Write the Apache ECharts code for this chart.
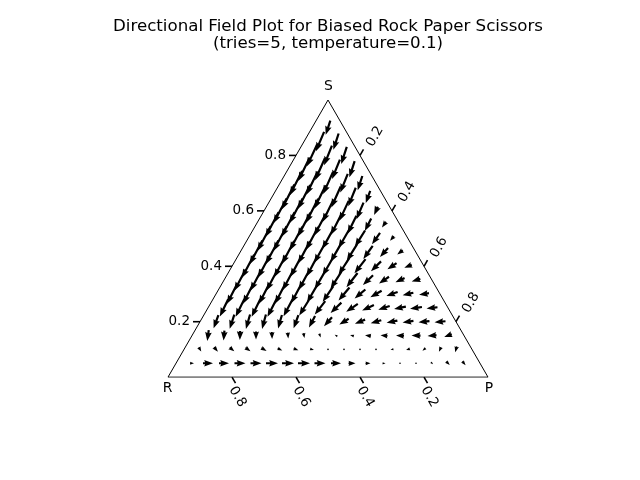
<!DOCTYPE html>
<html><head><meta charset="utf-8">
<script src="https://cdn.jsdelivr.net/npm/echarts@6/dist/echarts.min.js"></script>
<style>html,body{margin:0;padding:0;background:#fff}#c{width:640px;height:480px}</style>
</head><body><div id="c"></div>
<script>
const titleLines = ['Directional Field Plot for Biased Rock Paper Scissors', '(tries=5, temperature=0.1)'];
const cornerNames = ['R', 'P', 'S'];
const tickValues = [0.2, 0.4, 0.6, 0.8];
const tickLabels = ['0.2', '0.4', '0.6', '0.8'];
const gridStep = 0.05;           // ternary grid spacing (s rows, p columns)
// Arrow direction (degrees, counter-clockwise from +x) and length per row.
// Row k has s = k*0.05; entries go left to right with p = 0.05, 0.10, ...
const ang01 = [0,0,0,0,0,0,0,0,0,0,0,0,0,0,0,315,315,310];
const len01 = [4,10,10,11,11,12,12,12,11,10,7,5,3,2,1.5,3,5,5];
const ang02 = [300,310,320,325,330,335,340,345,0,0,180,185,190,200,220,245,255];
const len02 = [5,6,6,6,6,5,5,4,2,1.5,1.5,2,3,4,4,5,6];
const ang03 = [262,265,268,270,272,275,280,290,150,165,172,176,178,180,185,200];
const len03 = [11,10,9,8,7,6,5,4,3,4,6,7,8,9,9,8];
const ang04 = [250,252,254,255,254,250,242,228,212,202,196,192,188,186,185];
const len04 = [14,15,15,15,14,14,13,12,11,11,11,11,11,11,11];
const ang05 = [244,244,244,243,242,238,232,224,214,205,198,192,188,186];
const len05 = [19,20,20,20,19,18,17,15,14,13,12,12,12,11];
const ang06 = [243,243,243,243,242,240,236,230,220,210,200,193,189];
const len06 = [22,22,22,22,21,20,19,17,14,13,12,11,10];
const ang07 = [242,242,242,242,242,240,237,232,224,214,204,197];
const len07 = [24,24,24,23,22,21,20,18,14,12,10,9];
const ang08 = [242,242,242,242,242,240,237,232,224,214,202];
const len08 = [26,26,25,24,23,22,20,18,14,11,8];
const ang09 = [242,242,242,242,241,240,238,234,228,218];
const len09 = [27,27,26,25,24,22,20,16,12,7];
const ang10 = [242,242,242,242,241,240,238,235,230];
const len10 = [28,28,27,26,24,22,19,14,6];
const ang11 = [242,242,242,242,243,244,243,235];
const len11 = [28,28,27,25,23,20,14,7];
const ang12 = [242,242,243,244,245,247,245];
const len12 = [28,28,27,25,22,18,9];
const ang13 = [243,243,244,246,248,250];
const len13 = [28,27,26,23,20,13];
const ang14 = [243,244,246,248,252];
const len14 = [27,26,24,20,15];
const ang15 = [244,246,248,252];
const len15 = [26,24,21,17];
const ang16 = [245,248,252];
const len16 = [24,21,18];
const ang17 = [247,252];
const len17 = [21,17];
const ang18 = [252];
const len18 = [15];

const angRows = [ang01,ang02,ang03,ang04,ang05,ang06,ang07,ang08,ang09,ang10,ang11,ang12,ang13,ang14,ang15,ang16,ang17,ang18];
const lenRows = [len01,len02,len03,len04,len05,len06,len07,len08,len09,len10,len11,len12,len13,len14,len15,len16,len17,len18];

const H = Math.sqrt(3) / 2;
const QSCALE = 1 / 320; // quiver scale: data units per length unit
function tern(p, s) { return [p + s / 2, s * H]; }

const arrowData = [];
angRows.forEach(function (row, ki) {
  const s = (ki + 1) * gridStep;
  row.forEach(function (a, ji) {
    const p = (ji + 1) * gridStep;
    const c = tern(p, s);
    arrowData.push([c[0], c[1], a, lenRows[ki][ji]]);
  });
});

function arrowShape(tx, ty, hx, hy) {
  const dx = hx - tx, dy = hy - ty, L = Math.hypot(dx, dy);
  const w = 2.2, hl = 4 * w, hw = 1.5 * w, hal = 3.6 * w;
  if (L < w) return null;
  const sc = L < hl ? L / hl : 1;
  const Lu = Math.max(L, hl);
  const loc = [[0, -w / 2], [Lu - hal, -w / 2], [Lu - hl, -hw], [Lu, 0], [Lu - hl, hw], [Lu - hal, w / 2], [0, w / 2]];
  const ux = dx / L, uy = dy / L;
  return loc.map(function (q) {
    const x = q[0] * sc, y = q[1] * sc;
    return [tx + x * ux - y * uy, ty + x * uy + y * ux];
  });
}

const triangle = [tern(0, 0), tern(1, 0), tern(0, 1), tern(0, 0)];

const axisDefs = [
  { name: 'S', pos: function (v) { return tern(0, v); }, tick: [-7, 0], lab: [-10, 0], rot: 0, align: 'right' },
  { name: 'R', pos: function (v) { return tern(1 - v, 0); }, tick: [3.5, 6.06], lab: [5.5, 19.7], rot: -Math.PI / 3, align: 'center' },
  { name: 'P', pos: function (v) { return tern(v, 1 - v); }, tick: [3.5, -6.06], lab: [15, -18.9], rot: Math.PI / 3, align: 'center' }
];
const tickData = [];
axisDefs.forEach(function (ax, ai) {
  tickValues.forEach(function (v, vi) { const c = ax.pos(v); tickData.push([c[0], c[1], ai, vi]); });
});
const cornerData = [[0, 0, 0], [1, 0, 1], [0.5, H, 2]];
const cornerOffsets = [[-0.5, 11.5], [1, 11.5], [0.5, -14]];

const chart = echarts.init(document.getElementById('c'), null, { renderer: 'canvas' });
const FONT = '"DejaVu Sans", sans-serif';
chart.setOption({
  animation: false,
  backgroundColor: '#ffffff',
  grid: { left: 168, right: 152, top: 100, bottom: 480 - 100 - 320 * H, outerBoundsMode: 'none', containLabel: false },
  xAxis: { type: 'value', min: 0, max: 1, show: false },
  yAxis: { type: 'value', min: 0, max: H, show: false },
  graphic: [
    { type: 'text', x: 328, y: 27, style: { text: titleLines[0], font: '16.67px ' + FONT, fill: '#000', align: 'center', verticalAlign: 'middle' } },
    { type: 'text', x: 328, y: 44, style: { text: titleLines[1], font: '16.67px ' + FONT, fill: '#000', align: 'center', verticalAlign: 'middle' } }
  ],
  series: [
    { type: 'line', data: triangle, symbol: 'none', lineStyle: { color: '#000', width: 1 }, silent: true, z: 2 },
    {
      type: 'custom', data: arrowData, silent: true, z: 3,
      renderItem: function (params, api) {
        const x = api.value(0), y = api.value(1), a = api.value(2) * Math.PI / 180, L = api.value(3);
        const du = Math.cos(a) * L * QSCALE, dv = Math.sin(a) * L * QSCALE;
        const t = api.coord([x - du / 2, y - dv / 2]);
        const h = api.coord([x + du / 2, y + dv / 2]);
        const pts = arrowShape(t[0], t[1], h[0], h[1]);
        if (!pts) {
          const c = api.coord([x, y]);
          return { type: 'circle', shape: { cx: c[0], cy: c[1], r: 0.8 }, style: { fill: '#000' } };
        }
        return { type: 'polygon', shape: { points: pts }, style: { fill: '#000' } };
      }
    },
    {
      type: 'custom', data: tickData, silent: true, z: 4,
      renderItem: function (params, api) {
        const ax = axisDefs[api.value(2)];
        const c = api.coord([api.value(0), api.value(1)]);
        return {
          type: 'group', children: [
            { type: 'line', shape: { x1: c[0], y1: c[1], x2: c[0] + ax.tick[0], y2: c[1] + ax.tick[1] }, style: { stroke: '#000', lineWidth: 1.6 } },
            { type: 'text', x: c[0] + ax.lab[0], y: c[1] + ax.lab[1], rotation: ax.rot,
              style: { text: tickLabels[api.value(3)], font: '13.5px ' + FONT, fill: '#000', align: ax.align, verticalAlign: 'middle' } }
          ]
        };
      }
    },
    {
      type: 'custom', data: cornerData, silent: true, z: 4,
      renderItem: function (params, api) {
        const i = api.value(2);
        const c = api.coord([api.value(0), api.value(1)]);
        return { type: 'text', x: c[0] + cornerOffsets[i][0], y: c[1] + cornerOffsets[i][1],
          style: { text: cornerNames[i], font: '13.9px ' + FONT, fill: '#000', align: 'center', verticalAlign: 'middle' } };
      }
    }
  ]
});
</script></body></html>
